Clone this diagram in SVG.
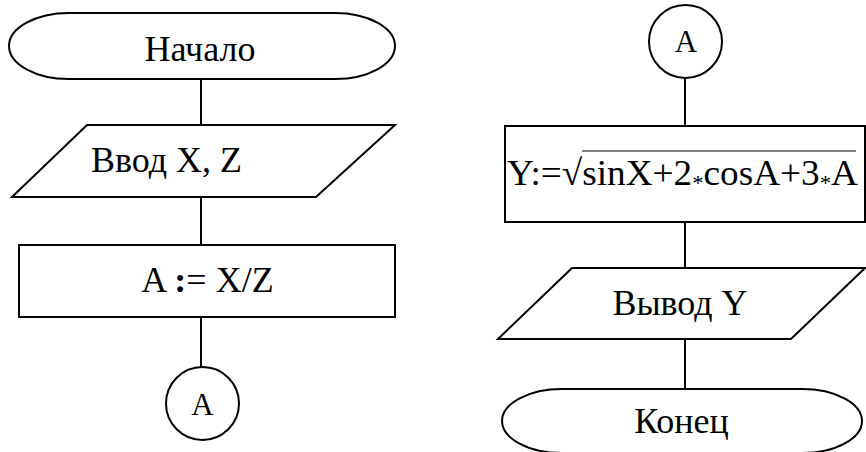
<svg xmlns="http://www.w3.org/2000/svg" width="866" height="452" viewBox="0 0 866 452">
<style>
.s{fill:#fff;stroke:#000;stroke-width:2}
.c{stroke:#000;stroke-width:2;fill:none}
.t{font-family:"Liberation Serif","Times New Roman",serif;font-size:36px;fill:#000}
.m{text-anchor:middle}
.k{font-family:"Liberation Serif","Times New Roman",serif;font-size:31px;fill:#000;text-anchor:middle}
</style>
<rect width="866" height="452" fill="#fff"/>
<g id="connectors">
<line class="c" x1="201" y1="79" x2="201" y2="125"/>
<line class="c" x1="201" y1="197" x2="201" y2="245"/>
<line class="c" x1="201" y1="317" x2="201" y2="367"/>
<line class="c" x1="685" y1="78" x2="685" y2="126"/>
<line class="c" x1="685" y1="222" x2="685" y2="268"/>
<line class="c" x1="685" y1="339" x2="685" y2="389"/>
</g>
<g id="start">
<rect class="s" x="9" y="13" width="386" height="66" rx="60" ry="33"/>
<text class="t m" x="200" y="61">Начало</text>
</g>
<g id="input">
<polygon class="s" points="87,125 395,125 316,197 12,197"/>
<text class="t m" x="166.5" y="172">Ввод X, Z</text>
</g>
<g id="assign">
<rect class="s" x="19" y="245" width="376" height="72"/>
<text class="t m" x="207.5" y="292">A <tspan font-weight="bold">:</tspan>= X/Z</text>
</g>
<g id="connA1">
<circle class="s" cx="202.5" cy="403.5" r="36.5"/>
<text class="k" x="202.5" y="415">A</text>
</g>
<g id="connA2">
<circle class="s" cx="685.5" cy="41.5" r="36.5"/>
<text class="k" x="686" y="52">A</text>
</g>
<g id="formula">
<rect class="s" x="505" y="126" width="360" height="96"/>
<text class="t" x="507" y="185" textLength="351" lengthAdjust="spacingAndGlyphs">Y:=√sinX+2<tspan font-size="22" dy="5">*</tspan><tspan dy="-5">cosA+3</tspan><tspan font-size="22" dy="5">*</tspan><tspan dy="-5">A</tspan></text>
<line x1="582" y1="151" x2="856" y2="151" stroke="#000" stroke-width="1"/>
</g>
<g id="output">
<polygon class="s" points="572,268 865,268 791,339 498,339"/>
<text class="t m" x="680" y="315">Вывод Y</text>
</g>
<g id="end">
<rect class="s" x="502" y="389" width="360" height="64" rx="60" ry="32"/>
<text class="t m" x="681.5" y="433">Конец</text>
</g>
</svg>
